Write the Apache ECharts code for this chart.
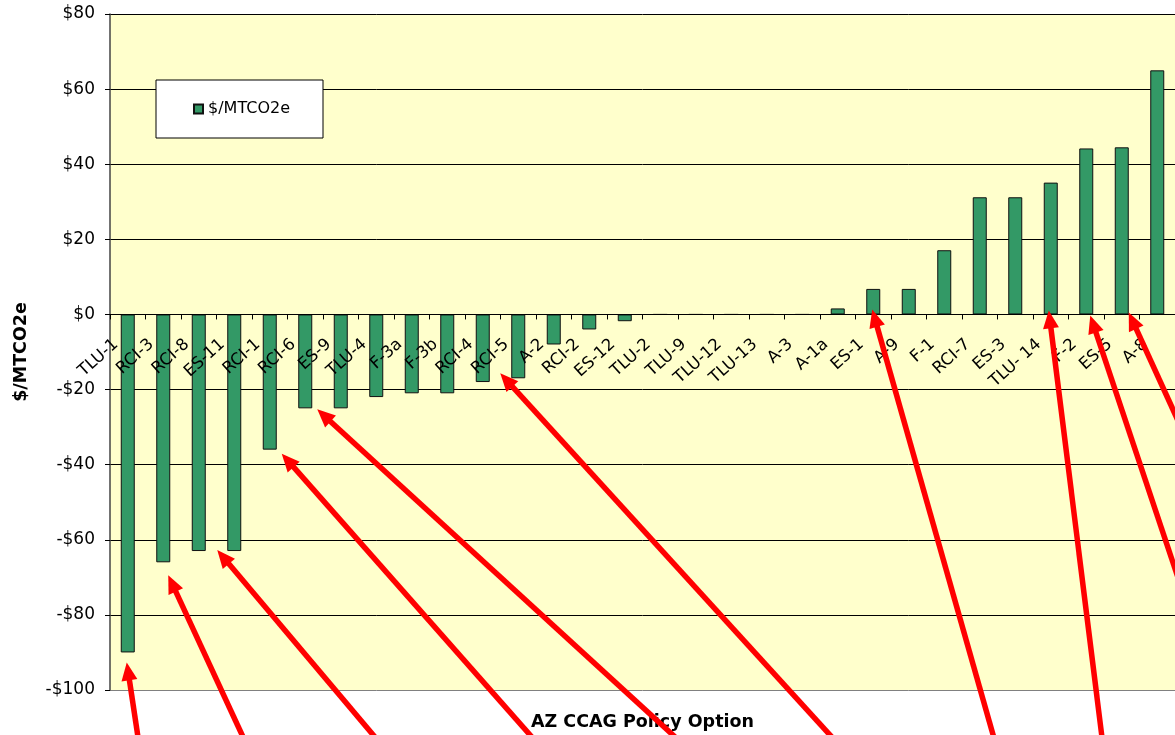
<!DOCTYPE html>
<html>
<head>
<meta charset="utf-8">
<script src="https://cdn.jsdelivr.net/npm/echarts@6/dist/echarts.min.js"></script>
<style>
  html, body { margin: 0; padding: 0; background: #fff; }
  #chart { width: 1175px; height: 735px; }
</style>
</head>
<body>
<div id="chart"></div>
<script>
const categories = ['TLU-1', 'RCI-3', 'RCI-8', 'ES-11', 'RCI-1', 'RCI-6', 'ES-9', 'TLU-4', 'F-3a', 'F-3b',
  'RCI-4', 'RCI-5', 'A-2', 'RCI-2', 'ES-12', 'TLU-2', 'TLU-9', 'TLU-12', 'TLU-13', 'A-3',
  'A-1a', 'ES-1', 'A-9', 'F-1', 'RCI-7', 'ES-3', 'TLU- 14', 'F-2', 'ES-5', 'A-8']
const costPerTon = [-90, -66, -63, -63, -36, -25, -25, -22, -21, -21,
  -18, -17, -8, -4, -1.8, 0, 0, 0, 0, 0,
  1.6, 6.8, 6.8, 17.1, 31.2, 31.2, 35.1, 44.2, 44.5, 65]
const seriesName = '$/MTCO2e'
const yMin = -100
const yMax = 80
const yStep = 20

// red call-out arrows: [category, 'end' of bar or 'base' on zero line, nudge x, nudge y, direction x, direction y]
const arrowNotes = [
  ['TLU-1', 'end', -1, 10, 11, 73],
  ['RCI-3', 'end', 5, 13, 74, 160],
  ['ES-11', 'end', -17, -1, 156, 185],
  ['RCI-1', 'end', 12, 4, 248, 281],
  ['RCI-6', 'end', 12, 1, 356, 326],
  ['RCI-5', 'end', -18, -5, 330, 362],
  ['ES-1', 'base', -1, -5, 121, 426],
  ['TLU- 14', 'base', -2, -4, 53, 425],
  ['F-2', 'base', 4, 1, 83, 248],
  ['ES-5', 'base', 7, -2, 46, 101]
]

const font = 'DejaVu Sans'
const chart = echarts.init(document.getElementById('chart'))

const money = v => (v < 0 ? '-$' + Math.abs(v) : '$' + v)
const nameToBottom = 23 // axis title sits just under the plot

chart.setOption({
  animation: false,
  backgroundColor: '#fff',
  textStyle: { fontFamily: font },
  grid: {
    left: 110,
    right: 0,
    top: 14,
    bottom: 45,
    outerBoundsMode: 'none',
    containLabel: false,
    show: true,
    backgroundColor: '#FFFFCC',
    borderWidth: 0
  },
  legend: {
    left: 156,
    top: 80,
    padding: [21, 33, 21, 37],
    backgroundColor: '#fff',
    borderColor: '#000',
    borderWidth: 1,
    borderRadius: 0,
    itemWidth: 9,
    itemHeight: 9,
    icon: 'rect',
    textStyle: { fontFamily: font, fontSize: 16, color: '#000' },
    data: [seriesName]
  },
  xAxis: {
    type: 'category',
    data: categories,
    position: 'bottom',
    z: 5,
    name: 'AZ CCAG Policy Option',
    nameLocation: 'middle',
    nameTextStyle: { fontFamily: font, fontSize: 17.5, fontWeight: 'bold', color: '#000' },
    axisLine: { onZero: false, lineStyle: { color: '#000', width: 1 } },
    axisTick: { show: true, interval: 0, length: 5, lineStyle: { color: '#000' } },
    axisLabel: {
      interval: 0,
      rotate: 42,
      margin: 17,
      padding: [0, 16, 0, 0],
      color: '#000',
      fontFamily: font,
      fontSize: 16.5
    },
    splitLine: { show: false }
  },
  yAxis: {
    type: 'value',
    min: yMin,
    max: yMax,
    interval: yStep,
    name: '$/MTCO2e',
    nameLocation: 'middle',
    nameGap: 80,
    nameRotate: 90,
    nameTextStyle: { fontFamily: font, fontSize: 17.5, fontWeight: 'bold', color: '#000' },
    axisLine: { show: true, lineStyle: { color: '#444', width: 1.5 } },
    axisTick: { show: true, length: 5, lineStyle: { color: '#000' } },
    axisLabel: {
      margin: 15,
      color: '#000',
      fontFamily: font,
      fontSize: 17,
      formatter: money
    },
    splitLine: {
      show: true,
      lineStyle: {
        width: 1,
        color: ['#808080', '#000', '#000', '#000', '#000', '#000', '#000', '#000', '#000', '#000']
      }
    }
  },
  series: [
    {
      name: seriesName,
      type: 'bar',
      data: costPerTon,
      barWidth: 14,
      itemStyle: { color: '#339966', borderColor: '#111', borderWidth: 1 }
    }
  ]
})

// lift the category axis onto the zero line (labels and ticks follow it)
const zeroY = chart.convertToPixel({ yAxisIndex: 0 }, 0)
const bottomY = chart.convertToPixel({ yAxisIndex: 0 }, yMin)
const lift = bottomY - zeroY

const arrowGraphics = () => {
  const out = []
  arrowNotes.forEach(([cat, at, nx, ny, dx, dy]) => {
    const i = categories.indexOf(cat)
    const v = at === 'end' ? costPerTon[i] : 0
    const p = chart.convertToPixel({ gridIndex: 0 }, [i, v])
    const tipX = p[0] + nx
    const tipY = p[1] + ny
    const len = Math.hypot(dx, dy)
    const ux = dx / len
    const uy = dy / len
    const headLen = 18
    const headHalf = 8
    const bx = tipX + ux * headLen
    const by = tipY + uy * headLen
    out.push({
      type: 'line',
      z: 100,
      shape: { x1: bx - ux * 3, y1: by - uy * 3, x2: tipX + ux * 1200, y2: tipY + uy * 1200 },
      style: { stroke: '#ff0000', lineWidth: 5.5 }
    })
    out.push({
      type: 'polygon',
      z: 100,
      shape: {
        points: [
          [tipX, tipY],
          [bx - uy * headHalf, by + ux * headHalf],
          [bx + uy * headHalf, by - ux * headHalf]
        ]
      },
      style: { fill: '#ff0000' }
    })
  })
  return out
}

chart.setOption({
  xAxis: { offset: -lift, nameGap: lift + nameToBottom },
  graphic: arrowGraphics()
})
</script>
</body>
</html>
